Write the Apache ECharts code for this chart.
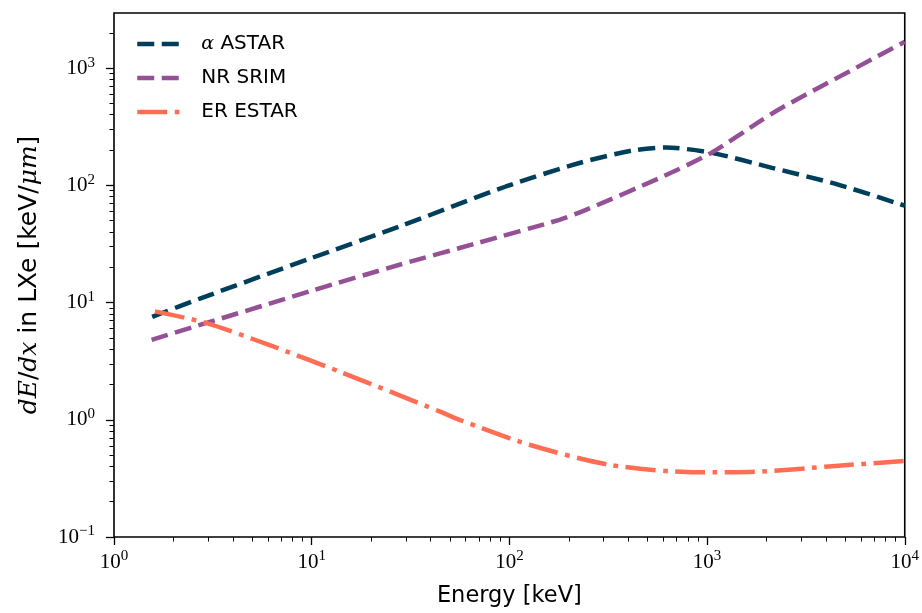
<!DOCTYPE html>
<html><head><meta charset="utf-8">
<script src="https://cdn.jsdelivr.net/npm/echarts@6/dist/echarts.min.js"></script>
<style>html,body{margin:0;padding:0;background:#fff}#c{width:922px;height:613px}</style>
</head><body><div id="c"></div>
<script>
// ---- data ----
var alphaE = [1.56, 2.72, 10, 27.8, 96, 226, 418, 621, 1060, 2130, 4640, 10000];
var alphaV = [7.56, 10.8, 24.0, 44.5, 97.7, 155, 198, 210, 189, 141, 101, 67];
var nrE = [1.55, 10, 27.8, 70, 179, 244, 572, 1044, 1900, 2449, 10000];
var nrV = [4.81, 12.6, 21.0, 32.4, 50.8, 61.8, 115, 188, 362, 470, 1675];
var erE = [1.61, 2.94, 6.38, 13.8, 44.3, 55.9, 126, 320, 877, 1900, 4130, 10000];
var erV = [8.4, 6.68, 4.22, 2.58, 1.18, 1.0, 0.612, 0.413, 0.356, 0.362, 0.40, 0.445];
var seriesNames = ['α ASTAR', 'NR SRIM', 'ER ESTAR'];
var xMajor = [1, 10, 100, 1000, 10000];
var xMinor = [2,3,4,5,6,7,8,9,20,30,40,50,60,70,80,90,200,300,400,500,600,700,800,900,2000,3000,4000,5000,6000,7000,8000,9000];
var yMajor = [0.1, 1, 10, 100, 1000];
var yMinor = [0.2,0.3,0.4,0.5,0.6,0.7,0.8,0.9,2,3,4,5,6,7,8,9,20,30,40,50,60,70,80,90,200,300,400,500,600,700,800,900,2000];
var xMin = 1, xMax = 10000, yMin = 0.1, yMax = 2950;

function pairs(xs, ys) { return xs.map(function (x, i) { return [x, ys[i]]; }); }
function powLabel(v) {
  var e = Math.round(Math.log10(v));
  var s = String(e).replace('-', '\u2212');
  return '{b|10}{e|' + s + '}';
}
var richPow = {
  b: { fontFamily: 'Liberation Serif', fontSize: 21, color: '#000' },
  e: { fontFamily: 'Liberation Serif', fontSize: 15, color: '#000', padding: [0, 0, 11, 0] }
};
var serif = 'DejaVu Serif';
var sans = 'DejaVu Sans';

var chart = echarts.init(document.getElementById('c'));
chart.setOption({
  animation: false,
  backgroundColor: '#fff',
  grid: { left: 114, top: 13, right: 16, bottom: 76, show: true, borderColor: '#000', borderWidth: 1.6, backgroundColor: 'transparent' },
  legend: {
    left: 135, top: 34, padding: 0, orient: 'vertical', itemWidth: 43, itemHeight: 14, itemGap: 14,
    data: seriesNames,
    itemStyle: { opacity: 0 },
    lineStyle: { width: 4.5 },
    formatter: function (n) { return n === 'α ASTAR' ? '{a|α} ASTAR' : n; },
    textStyle: { fontFamily: sans, fontSize: 20, color: '#000', padding: [0, 0, 0, 16],
      rich: { a: { fontFamily: serif, fontStyle: 'italic', fontSize: 19 } } }
  },
  xAxis: [{
    type: 'log', logBase: 10, min: xMin, max: xMax, gridIndex: 0, position: 'bottom',
    name: 'Energy [keV]', nameLocation: 'middle', nameGap: 48,
    nameTextStyle: { fontFamily: sans, fontSize: 22.5, color: '#000' },
    axisLine: { show: false },
    axisTick: { show: true, length: 8, lineStyle: { color: '#000', width: 1.3 }, customValues: xMajor },
    axisLabel: { customValues: xMajor, formatter: powLabel, rich: richPow, margin: 12 },
    splitLine: { show: false }, minorTick: { show: false }
  }, {
    type: 'log', logBase: 10, min: xMin, max: xMax, gridIndex: 0, position: 'bottom',
    axisLine: { show: false },
    axisTick: { show: true, length: 4.5, lineStyle: { color: '#000', width: 1 }, customValues: xMinor },
    axisLabel: { show: false }, splitLine: { show: false }
  }],
  yAxis: [{
    type: 'log', logBase: 10, min: yMin, max: yMax, gridIndex: 0, position: 'left',
    name: '{i|dE}/{i|dx} in LXe [keV/{i|μm}]', nameLocation: 'middle', nameGap: 72, nameRotate: 90,
    nameTextStyle: { fontFamily: sans, fontSize: 25, color: '#000',
      rich: { i: { fontFamily: serif, fontStyle: 'italic', fontSize: 25 } } },
    axisLine: { show: false },
    axisTick: { show: true, length: 8, lineStyle: { color: '#000', width: 1.3 }, customValues: yMajor },
    axisLabel: { customValues: yMajor, formatter: powLabel, rich: richPow, margin: 19 },
    splitLine: { show: false }, minorTick: { show: false }
  }, {
    type: 'log', logBase: 10, min: yMin, max: yMax, gridIndex: 0, position: 'left',
    axisLine: { show: false },
    axisTick: { show: true, length: 4.5, lineStyle: { color: '#000', width: 1 }, customValues: yMinor },
    axisLabel: { show: false }, splitLine: { show: false }
  }],
  series: [{
    name: seriesNames[0], type: 'line', data: pairs(alphaE, alphaV), showSymbol: false, symbol: 'none',
    smooth: 0.25, color: '#003f5c',
    lineStyle: { color: '#003f5c', width: 4.5, type: [17, 7.5] }
  }, {
    name: seriesNames[1], type: 'line', data: pairs(nrE, nrV), showSymbol: false, symbol: 'none',
    smooth: 0.25, color: '#955196',
    lineStyle: { color: '#955196', width: 4.5, type: [17, 7.5] }
  }, {
    name: seriesNames[2], type: 'line', data: pairs(erE, erV), showSymbol: false, symbol: 'none',
    smooth: 0.25, color: '#ff6e54',
    lineStyle: { color: '#ff6e54', width: 4.5, type: [30, 7.5, 4.7, 7.5] }
  }]
});
</script></body></html>
